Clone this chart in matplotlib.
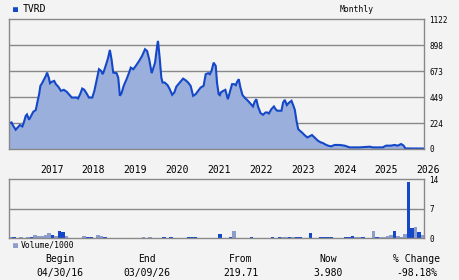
import numpy as np
import matplotlib
matplotlib.use('Agg')
import matplotlib.pyplot as plt

# price readings (decimal year, price)
price_t = [2016.33, 2016.39, 2016.43, 2016.49, 2016.54, 2016.59, 2016.65, 2016.69, 2016.73, 2016.76,
           2016.81, 2016.86, 2016.91, 2016.97, 2017.01, 2017.05, 2017.08, 2017.12, 2017.17, 2017.21,
           2017.24, 2017.28, 2017.31, 2017.35, 2017.41, 2017.45, 2017.51, 2017.57, 2017.64, 2017.71,
           2017.76, 2017.83, 2017.89, 2017.95, 2017.98, 2018.03, 2018.08, 2018.13, 2018.18, 2018.24,
           2018.32, 2018.37, 2018.42, 2018.48, 2018.53, 2018.57, 2018.60, 2018.66, 2018.70, 2018.74,
           2018.78, 2018.82, 2018.90, 2018.94, 2018.98, 2019.02, 2019.07, 2019.14, 2019.20, 2019.24,
           2019.30, 2019.36, 2019.44, 2019.51, 2019.58, 2019.63, 2019.68, 2019.74, 2019.77, 2019.82,
           2019.87, 2019.89, 2019.93, 2019.97, 2020.00, 2020.05, 2020.12, 2020.17, 2020.23, 2020.28,
           2020.33, 2020.41, 2020.49, 2020.55, 2020.61, 2020.67, 2020.73, 2020.79, 2020.85, 2020.91,
           2020.98, 2021.03, 2021.09, 2021.13, 2021.17, 2021.22, 2021.27, 2021.30, 2021.34, 2021.37,
           2021.39, 2021.45, 2021.50, 2021.54, 2021.56, 2021.60, 2021.66, 2021.71, 2021.75, 2021.78,
           2021.82, 2021.86, 2021.91, 2021.96, 2022.04, 2022.11, 2022.16, 2022.20, 2022.24, 2022.28,
           2022.34, 2022.40, 2022.46, 2022.50, 2022.54, 2022.60, 2022.66, 2022.70, 2022.74, 2022.84,
           2022.88, 2022.92, 2022.97, 2023.01, 2023.08, 2023.12, 2023.16, 2023.20, 2023.24, 2023.28,
           2023.33, 2023.39, 2023.46, 2023.51, 2023.57, 2023.63, 2023.71, 2023.78, 2023.83, 2023.87,
           2023.95, 2024.03, 2024.11, 2024.23, 2024.35, 2024.47, 2024.71, 2024.95, 2025.02, 2025.26,
           2025.34, 2025.46, 2025.54, 2025.62, 2025.70, 2025.76, 2025.80, 2026.23]
price_v = [221, 230, 201, 167, 187, 207, 195, 236, 287, 299,
           253, 287, 322, 337, 408, 474, 546, 569, 604, 632,
           661, 618, 569, 581, 589, 561, 538, 503, 512, 495,
           474, 445, 445, 445, 437, 474, 523, 512, 483, 445,
           445, 503, 589, 690, 676, 647, 676, 742, 791, 857,
           776, 661, 656, 618, 460, 483, 546, 604, 661, 704,
           690, 719, 762, 805, 863, 848, 776, 656, 690, 747,
           892, 935, 791, 618, 575, 575, 552, 518, 469, 489,
           540, 575, 609, 595, 575, 546, 460, 474, 503, 532,
           546, 647, 656, 647, 676, 747, 719, 575, 474, 466,
           489, 503, 512, 460, 431, 483, 561, 561, 552, 581,
           604, 532, 466, 445, 417, 388, 368, 408, 431, 368,
           311, 296, 316, 316, 307, 345, 368, 345, 331, 331,
           402, 425, 380, 397, 417, 380, 339, 244, 173, 158,
           143, 121, 100, 109, 121, 100, 72, 57, 52, 43,
           29, 23, 35, 35, 29, 14, 14, 20, 14, 14,
           29, 29, 35, 29, 43, 29, 5, 3.98]

# monthly volume (thousands), first month = May 2016
volume = [0.3, 0.15, 0.1, 0.15, 0.1, 0.3, 0.3, 0.8, 0.4, 0.55,
          0.8, 1.27, 0.8, 0.55, 1.75, 1.5, 0.55, 0.1, 0.1, 0.1,
          0.1, 0.55, 0.15, 0.15, 0.1, 0.8, 0.55, 0.3, 0.1, 0.1,
          0.1, 0.1, 0.1, 0.1, 0.1, 0.1, 0.1, 0.1, 0.3, 0.1,
          0.3, 0.1, 0.1, 0.1, 0.3, 0.1, 0.15, 0.1, 0.1, 0.1,
          0.1, 0.15, 0.15, 0.15, 0.1, 0.1, 0.1, 0.1, 0.1, 0.1,
          1.0, 0.1, 0.1, 0.15, 1.75, 0.1, 0.1, 0.1, 0.1, 0.15,
          0.1, 0.1, 0.1, 0.1, 0.1, 0.15, 0.1, 0.15, 0.15, 0.15,
          0.15, 0.15, 0.15, 0.2, 0.1, 0.1, 1.2, 0.1, 0.1, 0.3,
          0.15, 0.15, 0.3, 0.1, 0.1, 0.1, 0.15, 0.15, 0.55, 0.3,
          0.15, 0.15, 0.1, 0.1, 1.75, 0.15, 0.15, 0.3, 0.5, 0.8,
          1.75, 0.55, 0.15, 1.0, 13.4, 2.4, 2.7, 1.5, 0.8]
# B = up month (dark), L = down month (light)
vol_dir = ("LBBLBLBLLL" "LLBLBBLBBB" "BLBBLLLBLL"
           "BBBLLLBBLL" "LBBLBBBLLL" "LBBBLLLLBL"
           "BLLBLLBBBB" "BLBBLBLBLL" "BLBBBBBBLB"
           "BBBLLLBBBL" "LBLBLBLLLL" "BLLLBBLBL")
vol_start = 2016.33

years = list(range(2017, 2027))
price_ticks = [0, 224, 449, 673, 898, 1122]
vol_ticks = [0, 7, 14]
stats_head = ['Begin', 'End', 'From', 'Now', '% Change']
stats_vals = ['04/30/16', '03/09/26', '219.71', '3.980', '-98.18%']

bg = '#f3f3f3'
blue = '#1448c8'
light = '#8c9dcc'
fill = '#9bafdc'
grid = '#888888'

plt.rcParams['font.family'] = 'DejaVu Sans Mono'

fig = plt.figure(figsize=(4.6, 2.8), dpi=100, facecolor=bg)
W, H = 460.0, 280.0

def axes_px(left, top, right, bottom):
    return fig.add_axes([left / W, 1 - bottom / H, (right - left) / W, (bottom - top) / H])

x0, x1 = 2016.33, 2016.33 + 119 / 12.0

# ---- price panel
ax = axes_px(9, 19.3, 424, 149)
ax.set_facecolor(bg)
ax.fill_between(price_t, price_v, 0, color=fill, lw=0)
ax.plot(price_t, price_v, color=blue, lw=1.5, solid_joinstyle='miter')
ax.set_xlim(x0, x1)
ax.set_ylim(0, 1122)
ax.set_yticks(price_ticks)
ax.yaxis.tick_right()
ax.tick_params(axis='y', length=0, pad=4, labelsize=5.5)
ax.set_xticks([])
for y in price_ticks[1:-1]:
    ax.axhline(y, color=grid, lw=1.0, zorder=0.5)
for s in ax.spines.values():
    s.set_color(grid)
    s.set_linewidth(1.0)
ax.spines['top'].set_visible(True)
for yr in years:
    ax.text(yr + 0.35, -0.162, str(yr), transform=ax.get_xaxis_transform(),
            ha='center', va='center', fontsize=7, clip_on=False)

# ---- volume panel
av = axes_px(9, 179.3, 424, 238)
av.set_facecolor(bg)
vt = [vol_start + (i + 0.5) / 12.0 for i in range(len(volume))]
cols = [blue if c == 'B' else light for c in vol_dir]
av.bar(vt, volume, width=1 / 12.0, color=cols, lw=0)
av.set_xlim(x0, x1)
av.set_ylim(0, 14)
av.set_yticks(vol_ticks)
av.yaxis.tick_right()
av.tick_params(axis='y', length=0, pad=4, labelsize=5.5)
av.set_xticks([])
av.axhline(7, color=grid, lw=1.0, zorder=0.5)
for s in av.spines.values():
    s.set_color(grid)
    s.set_linewidth(1.0)

# ---- header / legend texts
fig.text(13 / W, 1 - 9.5 / H, '\u25a0', color=blue, fontsize=6, ha='left', va='center')
fig.text(23 / W, 1 - 9.5 / H, 'TVRD', fontsize=7, ha='left', va='center')
fig.text(357 / W, 1 - 9.5 / H, 'Monthly', fontsize=5.8, ha='center', va='center')
fig.text(12.5 / W, 1 - 245 / H, '\u25a0', color=light, fontsize=6, ha='left', va='center')
fig.text(20.5 / W, 1 - 245 / H, 'Volume/1000', fontsize=5.8, ha='left', va='center')

centers = [60, 147, 241, 328, 417]
for cx, h, v in zip(centers, stats_head, stats_vals):
    fig.text(cx / W, 1 - 259 / H, h, fontsize=7, ha='center', va='center')
    fig.text(cx / W, 1 - 273 / H, v, fontsize=7, ha='center', va='center')

fig.savefig('out.png', dpi=100, facecolor=bg)
